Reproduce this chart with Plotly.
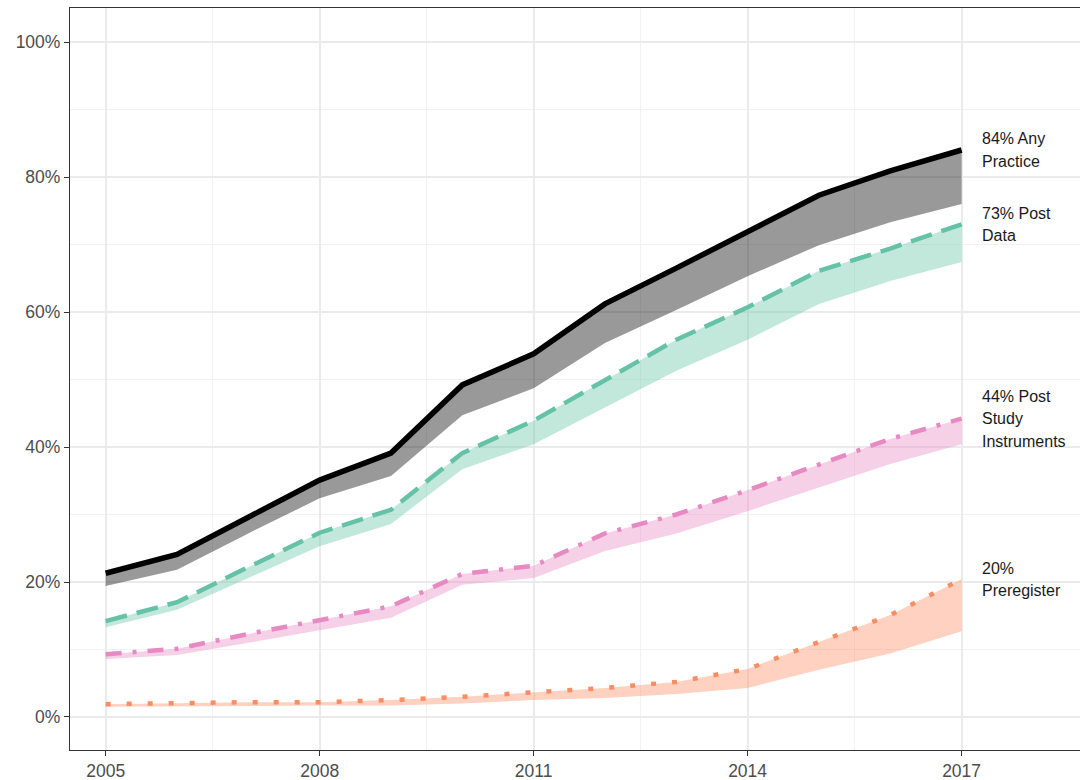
import plotly.graph_objects as go

years = list(range(2005, 2018))

any_upper = [21.3, 24.1, 29.6, 35.1, 39.1, 49.2, 53.8, 61.2, 66.5, 71.9, 77.3, 80.9, 84.0]
any_lower = [19.4, 21.8, 27.2, 32.4, 35.7, 44.7, 48.7, 55.4, 60.3, 65.3, 69.9, 73.3, 76.0]

data_upper = [14.2, 17.0, 22.2, 27.3, 30.7, 39.1, 43.9, 49.9, 55.9, 60.7, 66.1, 69.4, 73.0]
data_lower = [13.3, 15.9, 20.6, 25.3, 28.6, 36.7, 40.4, 45.8, 51.3, 55.9, 61.2, 64.6, 67.4]

instr_upper = [9.3, 10.1, 12.3, 14.4, 16.4, 21.2, 22.4, 27.2, 30.0, 33.6, 37.4, 41.2, 44.2]
instr_lower = [8.6, 9.2, 11.0, 12.9, 14.7, 19.6, 20.6, 24.6, 27.2, 30.5, 34.0, 37.5, 40.4]

prereg_upper = [1.9, 2.1, 2.2, 2.2, 2.5, 3.0, 3.7, 4.3, 5.2, 7.1, 11.1, 15.1, 20.4]
prereg_lower = [1.5, 1.6, 1.6, 1.7, 1.7, 2.0, 2.5, 2.8, 3.4, 4.3, 7.0, 9.4, 12.7]

series_names = ["Any Practice", "Post Data", "Post Study Instruments", "Preregister"]
label_lines = [["84% Any", "Practice"], ["73% Post", "Data"],
               ["44% Post", "Study", "Instruments"], ["20%", "Preregister"]]
line_colors = ["#000000", "#66C2A5", "#E78AC3", "#FC8D62"]
fill_colors = ["rgba(0,0,0,0.4)", "rgba(102,194,165,0.4)",
               "rgba(231,138,195,0.4)", "rgba(252,141,98,0.4)"]
dashes = ["solid", "22px,10px", "16px,11px,4px,11px", "5px,16px"]
widths = [5.5, 4.5, 4.5, 4.5]

uppers = [any_upper, data_upper, instr_upper, prereg_upper]
lowers = [any_lower, data_lower, instr_lower, prereg_lower]

y_ticks = [0, 20, 40, 60, 80, 100]
y_tick_text = ["0%", "20%", "40%", "60%", "80%", "100%"]
x_ticks = [2005, 2008, 2011, 2014, 2017]

fig = go.Figure()

# ribbons
for name, up, lo, fc in zip(series_names, uppers, lowers, fill_colors):
    fig.add_trace(go.Scatter(x=years, y=lo, mode="lines", line=dict(width=0),
                             showlegend=False, hoverinfo="skip"))
    fig.add_trace(go.Scatter(x=years, y=up, mode="lines", line=dict(width=0),
                             fill="tonexty", fillcolor=fc, showlegend=False,
                             hoverinfo="skip"))

# lines
for name, up, lc, d, w in zip(series_names, uppers, line_colors, dashes, widths):
    fig.add_trace(go.Scatter(x=years, y=up, mode="lines", name=name,
                             line=dict(color=lc, width=w, dash=d),
                             showlegend=False))

# end labels
for up, lines in zip(uppers, label_lines):
    n = len(lines)
    spacing = 22.5
    for i, t in enumerate(lines):
        offset = ((n - 1) / 2 - i) * spacing
        fig.add_annotation(x=years[-1], y=up[-1], text=t, showarrow=False,
                           xanchor="left", yanchor="middle", xshift=18,
                           yshift=offset,
                           font=dict(family="Liberation Sans, Arial", size=16,
                                     color="#1a1a1a"))

fig.update_layout(
    width=1080, height=780,
    margin=dict(l=70, r=0, t=8, b=30),
    paper_bgcolor="white", plot_bgcolor="white",
    font=dict(family="Liberation Sans, Arial", size=17.5, color="#4D4D4D"),
    showlegend=False,
)

fig.update_xaxes(
    range=[2004.5, 2018.66], tickvals=x_ticks, ticktext=[str(v) for v in x_ticks],
    showgrid=True, gridcolor="#EBEBEB", gridwidth=1.6,
    minor=dict(tickvals=[2006.5, 2009.5, 2012.5, 2015.5],
               showgrid=True, gridcolor="#F2F2F2", gridwidth=1, ticks=""),
    showline=True, linecolor="#333333", linewidth=1.2, mirror=True,
    ticks="outside", ticklen=5, tickcolor="#333333", tickwidth=1.2,
    zeroline=False, tickfont=dict(size=17.5, color="#4D4D4D"),
    automargin=False,
)
fig.update_yaxes(
    range=[-4.89, 105.04], tickvals=y_ticks, ticktext=y_tick_text,
    showgrid=True, gridcolor="#EBEBEB", gridwidth=1.6,
    minor=dict(tickvals=[10, 30, 50, 70, 90], showgrid=True,
               gridcolor="#F2F2F2", gridwidth=1, ticks=""),
    showline=True, linecolor="#333333", linewidth=1.2,
    ticks="outside", ticklen=5, tickcolor="#333333", tickwidth=1.2,
    zeroline=False, tickfont=dict(size=17.5, color="#4D4D4D"),
    automargin=False,
)

fig.write_html(
    "out.html",
    config={"displayModeBar": False},
    post_script="document.body.style.margin='0';document.body.style.overflow='hidden';",
)
